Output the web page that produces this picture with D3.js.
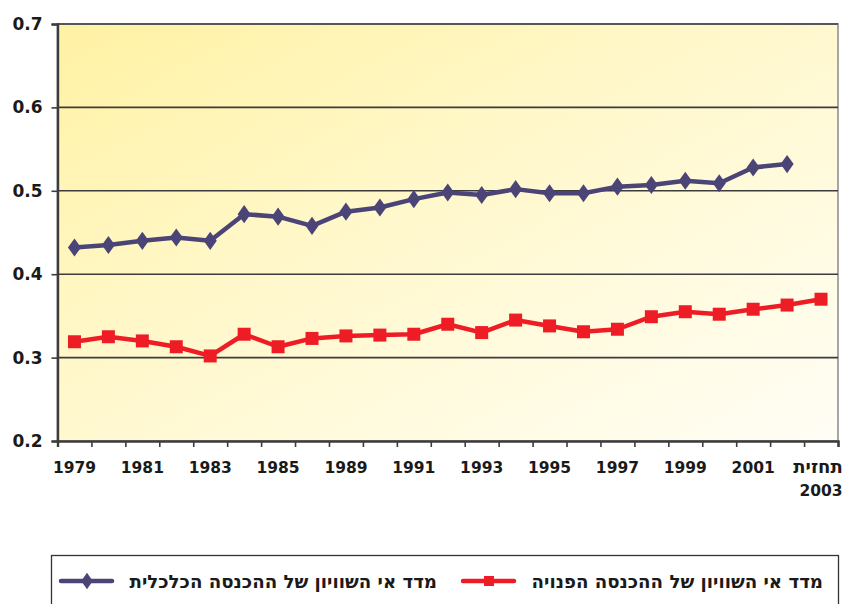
<!DOCTYPE html>
<html>
<head>
<meta charset="utf-8">
<script src="https://cdn.jsdelivr.net/npm/d3@7"></script>
<style>
  body { margin: 0; background: #fff; }
  svg { display: block; }
</style>
</head>
<body>
<div id="myChart"></div>
<script>
// Gini-style inequality index, economic vs disposable income, 1979 - forecast 2003

const categories = ["1979", "1980", "1981", "1982", "1983", "1984", "1985", "1986",
  "1989", "1990", "1991", "1992", "1993", "1994", "1995", "1996", "1997", "1998",
  "1999", "2000", "2001", "2002", "תחזית 2003"];

// economic income (blue, no forecast value)
const economicIncome = [0.432, 0.435, 0.440, 0.444, 0.440, 0.472, 0.469, 0.458,
  0.475, 0.480, 0.490, 0.498, 0.495, 0.502, 0.497, 0.497, 0.505, 0.507,
  0.512, 0.509, 0.528, 0.532, null];

// disposable income (red)
const disposableIncome = [0.319, 0.325, 0.320, 0.313, 0.302, 0.328, 0.313, 0.323,
  0.326, 0.327, 0.328, 0.340, 0.330, 0.345, 0.338, 0.331, 0.334, 0.349,
  0.355, 0.352, 0.358, 0.363, 0.370];

const yTicks = [0.2, 0.3, 0.4, 0.5, 0.6, 0.7];

const seriesNames = ["מדד אי השוויון של ההכנסה הכלכלית", "מדד אי השוויון של ההכנסה הפנויה"];

var width = 849,
    height = 604,
    margin = {top: 24, right: 11, bottom: 163, left: 57.5};

var svg = d3.select("#myChart")
  .append("svg")
    .attr("width", width)
    .attr("height", height);

// background gradient of the plot area
var defs = svg.append("defs");
var grad = defs.append("linearGradient")
    .attr("id", "bg")
    .attr("x1", "0").attr("y1", "0")
    .attr("x2", "1").attr("y2", "1");
grad.append("stop").attr("offset", "0%").attr("stop-color", "#fff2a4");
grad.append("stop").attr("offset", "45%").attr("stop-color", "#fff8cc");
grad.append("stop").attr("offset", "100%").attr("stop-color", "#fffef6");

var x = d3.scaleBand()
    .domain(categories)
    .range([margin.left, width - margin.right])
    .padding(0);

// boundaries between the categories, for the tick marks
var xEdges = d3.scaleLinear()
    .domain([0, categories.length])
    .range([margin.left, width - margin.right]);

var y = d3.scaleLinear()
    .domain([0.2, 0.7])
    .range([height - margin.bottom, margin.top]);

svg.append("rect")
    .attr("x", margin.left)
    .attr("y", margin.top)
    .attr("width", width - margin.left - margin.right)
    .attr("height", height - margin.top - margin.bottom)
    .attr("fill", "url(#bg)")
    .attr("stroke", "#a6a6a6")
    .attr("stroke-width", 2);

// gridlines
svg.append("g")
  .selectAll("line")
  .data(yTicks.slice(1))
  .enter()
  .append("line")
    .attr("x1", margin.left)
    .attr("x2", width - margin.right)
    .attr("y1", d => y(d))
    .attr("y2", d => y(d))
    .attr("stroke", "#3c3c3c")
    .attr("stroke-width", 1.6);

// y axis
var yAxis = svg.append("g")
    .attr("transform", "translate(" + margin.left + ",0)")
    .call(d3.axisLeft(y).tickValues(yTicks).tickFormat(d3.format(".1f")).tickSize(6).tickPadding(9));
yAxis.selectAll("text")
    .style("font-family", "'DejaVu Sans', sans-serif")
    .style("font-weight", "bold")
    .style("font-size", "17px")
    .attr("fill", "#1a1a1a");

// x axis: tick marks on category edges
var xTicks = svg.append("g")
    .attr("transform", "translate(0," + (height - margin.bottom) + ")")
    .call(d3.axisBottom(xEdges).tickValues(d3.range(categories.length + 1)).tickFormat("").tickSize(6));

// x axis: labels on every other category
var xLabels = svg.append("g")
    .attr("transform", "translate(0," + (height - margin.bottom) + ")")
    .call(d3.axisBottom(x).tickSize(0).tickPadding(21)
      .tickFormat((d, i) => i % 2 === 0 ? d : ""));
xLabels.select(".domain").remove();
xLabels.selectAll("text")
    .style("font-family", "'DejaVu Sans', sans-serif")
    .style("font-weight", "bold")
    .style("font-size", "15.5px")
    .attr("fill", "#1a1a1a");

// forecast label on two lines
xLabels.selectAll(".tick text")
  .filter(d => d.indexOf(" ") > 0)
  .each(function(d) {
    var t = d3.select(this).text(null);
    var parts = d.split(" ");
    t.append("tspan").attr("x", -3).text(parts[0]).style("font-size", "18px");
    t.append("tspan").attr("x", 0).attr("dy", "1.5em").text(parts[1]);
  });

[yAxis, xTicks].forEach(g => {
  g.selectAll("line").attr("stroke", "#3c3c3c").attr("stroke-width", 1.6);
  g.select(".domain").attr("stroke", "#3c3c3c").attr("stroke-width", 2.4);
});

var blue = "#4b4577",
    red = "#ee1d25";

var line = d3.line()
    .defined(d => d.v !== null)
    .x(d => x(d.c) + x.bandwidth() / 2)
    .y(d => y(d.v));

function series(values) {
  return values.map((v, i) => ({c: categories[i], v: v}));
}

var blueData = series(economicIncome);
var redData = series(disposableIncome);

svg.append("path")
    .datum(redData)
    .attr("d", line)
    .attr("fill", "none")
    .attr("stroke", red)
    .attr("stroke-width", 4.5)
    .attr("stroke-linejoin", "round");

svg.selectAll(".sq")
  .data(redData.filter(d => d.v !== null))
  .enter()
  .append("rect")
    .attr("class", "sq")
    .attr("x", d => x(d.c) + x.bandwidth() / 2 - 6.5)
    .attr("y", d => y(d.v) - 6.5)
    .attr("width", 13)
    .attr("height", 13)
    .attr("fill", red);

svg.append("path")
    .datum(blueData)
    .attr("d", line)
    .attr("fill", "none")
    .attr("stroke", blue)
    .attr("stroke-width", 4.5)
    .attr("stroke-linejoin", "round");

var diamond = d3.symbol().type(d3.symbolDiamond).size(95);

svg.selectAll(".dm")
  .data(blueData.filter(d => d.v !== null))
  .enter()
  .append("path")
    .attr("class", "dm")
    .attr("d", diamond)
    .attr("transform", d => "translate(" + (x(d.c) + x.bandwidth() / 2) + "," + y(d.v) + ") scale(1.25,1)")
    .attr("fill", blue);

// legend
var legend = svg.append("g");
legend.append("rect")
    .attr("x", 51.5)
    .attr("y", 555.5)
    .attr("width", 787)
    .attr("height", 60)
    .attr("fill", "#fff")
    .attr("stroke", "#333")
    .attr("stroke-width", 1.3);

var legendItems = [
  {name: seriesNames[0], color: blue, shape: "diamond", lineX: 61, textX: 437},
  {name: seriesNames[1], color: red, shape: "square", lineX: 463, textX: 823}
];

legendItems.forEach(item => {
  var g = legend.append("g");
  g.append("line")
      .attr("x1", item.lineX)
      .attr("x2", item.lineX + 51)
      .attr("y1", 581)
      .attr("y2", 581)
      .attr("stroke", item.color)
      .attr("stroke-width", 4.5)
      .attr("stroke-linecap", "round");
  if (item.shape === "diamond") {
    g.append("path")
        .attr("d", diamond)
        .attr("transform", "translate(" + (item.lineX + 26) + ",581) scale(1.1,0.9)")
        .attr("fill", item.color);
  } else {
    g.append("rect")
        .attr("x", item.lineX + 21)
        .attr("y", 576)
        .attr("width", 10)
        .attr("height", 10)
        .attr("fill", item.color);
  }
  g.append("text")
      .attr("x", item.textX)
      .attr("y", 588)
      .attr("text-anchor", "end")
      .style("font-family", "'DejaVu Sans', sans-serif")
      .style("font-weight", "bold")
      .style("font-size", "18.2px")
      .attr("fill", "#1a1a1a")
      .text(item.name);
});
</script>
</body>
</html>
